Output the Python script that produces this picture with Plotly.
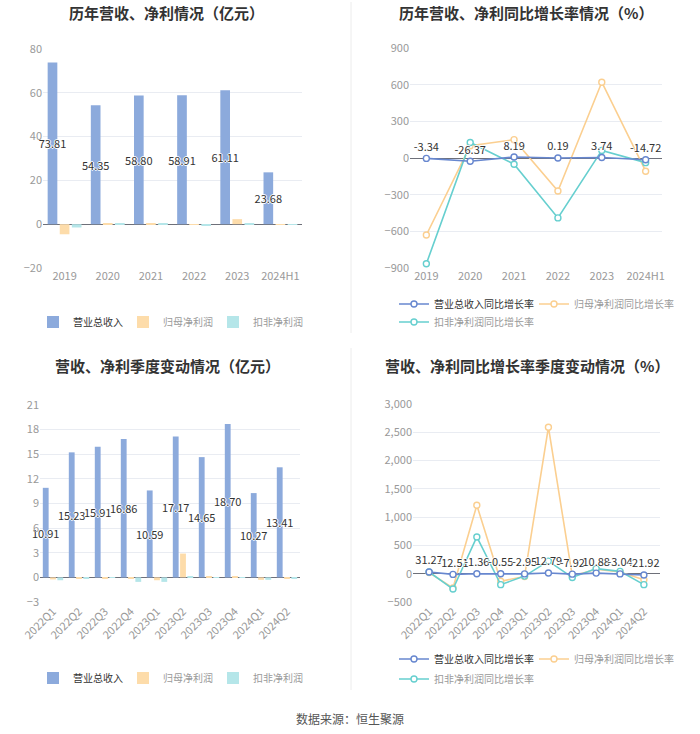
import plotly.graph_objects as go

W, H = 700, 734

# ---------------- data ----------------
years = ["2019", "2020", "2021", "2022", "2023", "2024H1"]
annual_revenue = [73.81, 54.35, 58.80, 58.91, 61.11, 23.68]
annual_parent_profit = [-4.6, 0.2, 0.45, -0.35, 2.3, -0.15]
annual_deducted_profit = [-1.5, 0.3, 0.15, -0.6, 0.1, -0.05]

annual_rev_growth = [-3.34, -26.37, 8.19, 0.19, 3.74, -14.72]
annual_parent_growth = [-630, 100, 150, -270, 620, -108]
annual_deducted_growth = [-865, 127, -51, -490, 62, -38]

quarters = ["2022Q1", "2022Q2", "2022Q3", "2022Q4", "2023Q1",
            "2023Q2", "2023Q3", "2023Q4", "2024Q1", "2024Q2"]
q_revenue = [10.91, 15.23, 15.91, 16.86, 10.59, 17.17, 14.65, 18.70, 10.27, 13.41]
q_parent_profit = [-0.25, -0.1, -0.1, -0.15, -0.35, 2.9, 0.05, 0.05, -0.3, -0.08]
q_deducted_profit = [-0.35, -0.1, 0.03, -0.55, -0.55, 0.05, 0.03, 0.03, -0.3, -0.1]

q_rev_growth = [31.27, -12.51, -1.36, -0.55, -2.95, 12.79, -7.92, 10.88, -3.04, -21.92]
q_parent_growth = [20, -253, 1210, -133, -48, 2590, -42, 78, 30, -108]
q_deducted_growth = [30, -271, 650, -193, -42, 223, -66, 90, 42, -193]

names_bar = ["营业总收入", "归母净利润", "扣非净利润"]
names_line = ["营业总收入同比增长率", "归母净利润同比增长率", "扣非净利润同比增长率"]

# ---------------- style ----------------
FONT = "Noto Sans CJK SC, Noto Sans, sans-serif"
C_REV_BAR = "#8caadc"
C_PAR_BAR = "#fddcaa"
C_DED_BAR = "#b5e6e9"
C_REV_LINE = "#6787cf"
C_PAR_LINE = "#fbcf90"
C_DED_LINE = "#66cfcf"
HALO = "1px 0 0 #fff, -1px 0 0 #fff, 0 1px 0 #fff, 0 -1px 0 #fff"
label_font = dict(family=FONT, size=11, color="#333", shadow=HALO)


def fx(p):
    return p / W


def fy(p):
    return 1 - p / H


def legend_name(txt, faded):
    return f"<span style='color:#9a9a9a'>{txt}</span>" if faded else txt


fig = go.Figure()

# ---- top-left: annual bars ----
for i, (vals, col) in enumerate(zip([annual_revenue, annual_parent_profit, annual_deducted_profit],
                                    [C_REV_BAR, C_PAR_BAR, C_DED_BAR])):
    kw = {}
    if i == 0:
        kw = dict(text=[f"{v:.2f}" for v in vals], textposition="inside",
                  insidetextanchor="middle", textangle=0, constraintext="none",
                  insidetextfont=label_font)
    fig.add_trace(go.Bar(x=years, y=vals, name=legend_name(names_bar[i], i > 0),
                         marker=dict(color=col, line=dict(width=0)),
                         xaxis="x", yaxis="y", legend="legend", cliponaxis=False,
                         hoverinfo="skip", **kw))

# ---- bottom-left: quarterly bars ----
for i, (vals, col) in enumerate(zip([q_revenue, q_parent_profit, q_deducted_profit],
                                    [C_REV_BAR, C_PAR_BAR, C_DED_BAR])):
    kw = {}
    if i == 0:
        kw = dict(text=[f"{v:.2f}" for v in vals], textposition="inside",
                  insidetextanchor="middle", textangle=0, constraintext="none",
                  insidetextfont=label_font)
    fig.add_trace(go.Bar(x=quarters, y=vals, name=legend_name(names_bar[i], i > 0),
                         marker=dict(color=col, line=dict(width=0)),
                         xaxis="x3", yaxis="y3", legend="legend4", cliponaxis=False,
                         hoverinfo="skip", **kw))

# ---- line charts ----
def add_lines(xcats, series, xa, ya, leg_a, leg_b):
    cols = [C_REV_LINE, C_PAR_LINE, C_DED_LINE]
    order = [1, 2, 0]  # draw revenue last (on top)
    for i in order:
        vals = series[i]
        kw = {}
        mode = "lines+markers"
        if i == 0:
            mode = "lines+markers+text"
            kw = dict(text=[f"{v:.2f}" for v in vals], textposition="top center",
                      textfont=label_font)
        fig.add_trace(go.Scatter(
            x=xcats, y=vals, name=legend_name(names_line[i], i > 0), mode=mode,
            line=dict(color=cols[i], width=1.6),
            marker=dict(symbol="circle", size=6, color="#fff",
                        line=dict(color=cols[i], width=1.4)),
            xaxis=xa, yaxis=ya, legend=leg_a if i < 2 else leg_b,
            legendrank=i, cliponaxis=False, hoverinfo="skip", **kw))


add_lines(years, [annual_rev_growth, annual_parent_growth, annual_deducted_growth],
          "x2", "y2", "legend2", "legend3")
add_lines(quarters, [q_rev_growth, q_parent_growth, q_deducted_growth],
          "x4", "y4", "legend5", "legend6")

# ---------------- axes ----------------
tickfont = dict(family=FONT, size=11, color="#999")


def yax(dom, rng, dtick, fmt=None):
    d = dict(domain=dom, range=rng, dtick=dtick, tick0=0, showgrid=True,
             gridcolor="#e9ecf2", gridwidth=1, zeroline=True, zerolinecolor="#6e7079",
             zerolinewidth=1, showline=False, ticks="", tickfont=tickfont,
             fixedrange=True)
    if fmt:
        d["tickformat"] = fmt
    return d


def xax(dom, anchor, angle=0):
    return dict(domain=dom, anchor=anchor, type="category", showgrid=False,
                zeroline=False, showline=False, ticks="", tickfont=tickfont,
                tickangle=angle, fixedrange=True)


def tick_ax(dom, n, zero_px, overlay):
    # small tick marks hanging from the zero line at each category centre
    return dict(domain=dom, anchor="free", position=fy(zero_px), overlaying=overlay,
                type="linear", range=[-0.5, n - 0.5], tickvals=list(range(n)),
                showticklabels=False, ticks="outside", ticklen=4, tickwidth=1,
                tickcolor="#6e7079", showgrid=False, zeroline=False, showline=False,
                fixedrange=True)


layout_axes = dict(
    xaxis=xax([fx(43), fx(302)], "y"),
    yaxis=yax([fy(268), fy(49)], [-20, 80], 20),
    xaxis2=xax([fx(410), fx(662)], "y2"),
    yaxis2=yax([fy(268), fy(48)], [-900, 900], 300),
    xaxis3=xax([fx(40), fx(300)], "y3", -45),
    yaxis3=yax([fy(602), fy(405)], [-3, 21], 3),
    xaxis4=xax([fx(413), fx(660)], "y4", -45),
    yaxis4=yax([fy(602), fy(404)], [-500, 3000], 500, ","),
    xaxis5=tick_ax([fx(43), fx(302)], len(years), 268 - 20 * 219 / 100, "x"),
    xaxis6=tick_ax([fx(410), fx(662)], len(years), 158, "x2"),
    xaxis7=tick_ax([fx(40), fx(300)], len(quarters), 602 - 3 * 197 / 24, "x3"),
    xaxis8=tick_ax([fx(413), fx(660)], len(quarters), 602 - 500 * 198 / 3500, "x4"),
)
for k in ["yaxis", "yaxis2", "yaxis3", "yaxis4"]:
    layout_axes[k]["anchor"] = "x" + k[5:] if k != "yaxis" else "x"

legfont = dict(family=FONT, size=10, color="#333")


def leg(x, y, xanchor="center", entrywidth=None):
    d = dict(orientation="h", x=fx(x), y=fy(y), xanchor=xanchor, yanchor="middle",
             font=legfont, bgcolor="rgba(0,0,0,0)", itemclick=False,
             itemdoubleclick=False, traceorder="normal")
    if entrywidth:
        d.update(entrywidth=entrywidth, entrywidthmode="pixels")
    return d


annotations = [
    dict(text="<b>历年营收、净利情况（亿元）</b>", x=fx(166), y=fy(12)),
    dict(text="<b>历年营收、净利同比增长率情况（%）</b>", x=fx(526), y=fy(12)),
    dict(text="<b>营收、净利季度变动情况（亿元）</b>", x=fx(167), y=fy(366)),
    dict(text="<b>营收、净利同比增长率季度变动情况（%）</b>", x=fx(527), y=fy(366)),
]
for a in annotations:
    a.update(xref="paper", yref="paper", showarrow=False, xanchor="center",
             yanchor="middle", font=dict(family=FONT, size=15, color="#333"))
annotations.append(dict(text="数据来源：恒生聚源", x=0.5, y=fy(718), xref="paper",
                        yref="paper", showarrow=False, xanchor="center", yanchor="middle",
                        font=dict(family=FONT, size=12, color="#555")))

shapes = [
    dict(type="line", xref="paper", yref="paper", x0=fx(351), x1=fx(351),
         y0=fy(2), y1=fy(333), line=dict(color="#ececec", width=1)),
    dict(type="line", xref="paper", yref="paper", x0=fx(351), x1=fx(351),
         y0=fy(348), y1=fy(690), line=dict(color="#ececec", width=1)),
]

fig.update_layout(
    width=W, height=H, margin=dict(l=0, r=0, t=0, b=0, autoexpand=False),
    paper_bgcolor="#fff", plot_bgcolor="#fff",
    font=dict(family=FONT),
    barmode="group", bargap=0.16, bargroupgap=0.2,
    showlegend=True,
    legend=leg(168, 322, "center", 45),
    legend2=leg(394, 304, "left", 95),
    legend3=leg(394, 322, "left", 95),
    legend4=leg(168, 678, "center", 45),
    legend5=leg(394, 659, "left", 95),
    legend6=leg(394, 679, "left", 95),
    annotations=annotations, shapes=shapes,
    **layout_axes,
)

fig.write_html("out.html", include_plotlyjs=True, config={"displayModeBar": False})
